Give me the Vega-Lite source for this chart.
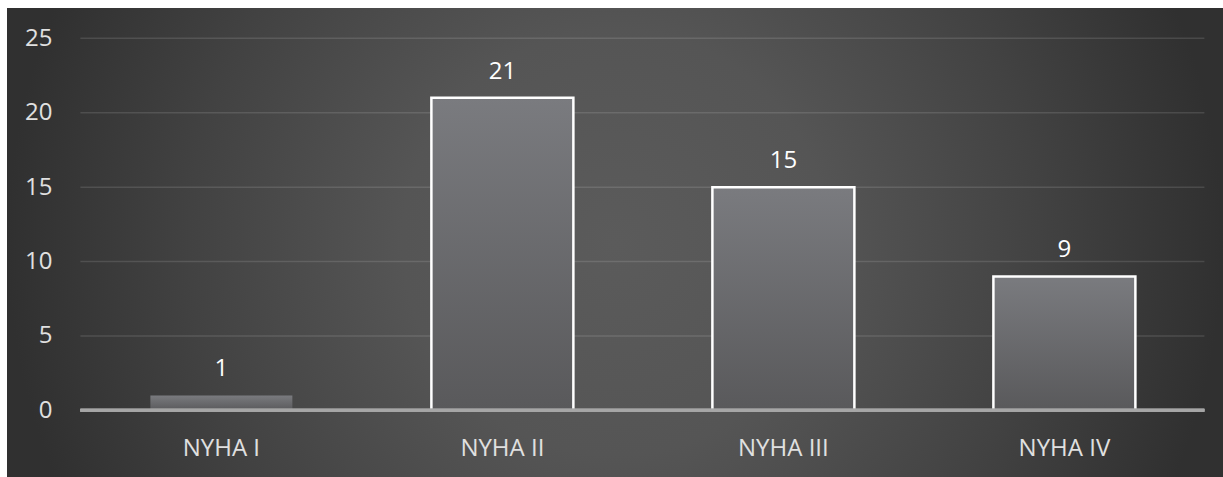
{
  "$schema": "https://vega.github.io/schema/vega-lite/v6.json",
  "width": 1216,
  "height": 469,
  "autosize": {"type": "none"},
  "padding": {"left": 7, "top": 8, "right": 0, "bottom": 0},
  "background": "#ffffff",
  "config": {
    "font": "Open Sans",
    "view": {
      "stroke": null,
      "fill": {
        "gradient": "radial",
        "x1": 0.5, "y1": 0.5, "r1": 0,
        "x2": 0.5, "y2": 0.5, "r2": 0.5,
        "stops": [
          {"offset": 0, "color": "#5b5b5b"},
          {"offset": 0.35, "color": "#555555"},
          {"offset": 0.7, "color": "#424242"},
          {"offset": 1, "color": "#303030"}
        ]
      }
    }
  },
  "data": {
    "values": [
      {"category": "NYHA I", "value": 1},
      {"category": "NYHA II", "value": 21},
      {"category": "NYHA III", "value": 15},
      {"category": "NYHA IV", "value": 9}
    ]
  },
  "encoding": {
    "x": {
      "field": "category", "type": "nominal", "sort": null,
      "scale": {"type": "band", "paddingInner": 0.4947, "paddingOuter": 0.411, "align": 0.6207, "domain": ["NYHA I", "NYHA II", "NYHA III", "NYHA IV"]},
      "axis": {
        "title": null, "orient": "bottom", "offset": -66.7, "labelPadding": 26,
        "ticks": false, "tickSize": 0, "domain": false, "grid": false, "labelAngle": 0,
        "labelFontSize": 24, "labelColor": "#e0e0e0", "labelFont": "Open Sans"
      }
    },
    "y": {
      "field": "value", "type": "quantitative",
      "scale": {"domain": [-4.48, 27.04], "nice": false, "zero": false},
      "axis": {
        "title": null, "values": [0, 5, 10, 15, 20, 25], "offset": -74, "labelPadding": 29,
        "ticks": false, "domain": false, "grid": false,
        "labelFontSize": 24, "labelColor": "#e0e0e0", "labelFont": "Open Sans"
      }
    }
  },
  "layer": [
    {
      "data": {"values": [{"grid": 5}, {"grid": 10}, {"grid": 15}, {"grid": 20}, {"grid": 25}]},
      "mark": {"type": "rule", "stroke": "#ffffff", "strokeOpacity": 0.12, "strokeWidth": 1.5},
      "encoding": {
        "y": {"field": "grid", "type": "quantitative"},
        "x": {"datum": "NYHA I", "type": "nominal", "bandPosition": -0.493},
        "x2": {"datum": "NYHA IV", "bandPosition": 1.486}
      }
    },
    {
      "mark": {
        "type": "bar",
        "strokeWidth": 2.5,
        "fill": {
          "gradient": "linear",
          "x1": 0, "y1": 0, "x2": 0, "y2": 1,
          "stops": [
            {"offset": 0, "color": "#7a7b7f"},
            {"offset": 1, "color": "#59595b"}
          ]
        }
      },
      "encoding": {
        "stroke": {"condition": {"test": "datum.value < 2", "value": "transparent"}, "value": "#ffffff"}
      }
    },
    {
      "mark": {"type": "text", "baseline": "alphabetic", "dy": -19, "fontSize": 24, "color": "#ffffff", "font": "Open Sans"},
      "encoding": {
        "text": {"field": "value", "type": "quantitative"}
      }
    },
    {
      "mark": {"type": "rule", "stroke": "#a6a6a6", "strokeWidth": 3},
      "encoding": {
        "y": {"datum": 0, "type": "quantitative"},
        "x": {"datum": "NYHA I", "type": "nominal", "bandPosition": -0.493},
        "x2": {"datum": "NYHA IV", "bandPosition": 1.486}
      }
    }
  ]
}
